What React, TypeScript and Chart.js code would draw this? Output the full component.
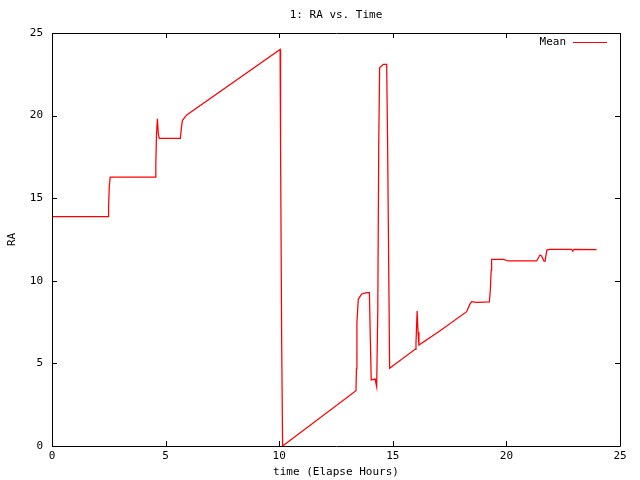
import React, { useEffect, useRef } from "react";
import { Chart, registerables } from "chart.js";

Chart.register(...registerables);

const TITLE = "1: RA vs. Time";
const X_LABEL = "time (Elapse Hours)";
const Y_LABEL = "RA";
const SERIES_LABEL = "Mean";

const times: number[] = [
  0, 2.48, 2.49, 2.52, 2.56, 4.55, 4.57, 4.6, 4.64, 4.68, 4.72, 5.65, 5.7, 5.74, 5.93,
  10.04, 10.06, 10.11, 10.15, 13.38, 13.4, 13.42, 13.48, 13.63, 13.85, 13.97, 14.01,
  14.05, 14.22, 14.25, 14.29, 14.34, 14.38, 14.42, 14.58, 14.73, 14.77, 14.83, 14.86,
  15.98, 16.02, 16.07, 16.11, 16.15, 17.08, 18.25, 18.4, 18.47, 18.7, 19.25, 19.29,
  19.33, 19.35, 19.87, 20.08, 21.33, 21.48, 21.55, 21.65, 21.7, 21.78, 21.9, 22.87,
  22.92, 22.97, 23.97,
];

const ra: number[] = [
  13.88, 13.88, 14.45, 15.66, 16.28, 16.28, 17.1, 18.9, 19.8, 18.9, 18.62, 18.62, 19.33, 19.7, 20.04,
  24.0, 18.06, 6.07, 0.0, 3.35, 4.68, 7.45, 8.88, 9.2, 9.28, 9.28, 6.52,
  4.0, 4.05, 3.85, 3.59, 8.33, 18.06, 22.9, 23.1, 23.1, 18.5, 9.3, 4.7,
  5.85, 6.2, 8.17, 6.9, 6.11, 6.98, 8.13, 8.6, 8.74, 8.7, 8.72, 9.38,
  10.65, 11.3, 11.3, 11.2, 11.2, 11.56, 11.5, 11.2, 11.18, 11.86, 11.9, 11.9,
  11.8, 11.9, 11.88,
];

const X_MIN = 0;
const X_MAX = 25;
const Y_MIN = 0;
const Y_MAX = 25;
const TICK_STEP = 5;

const FONT = "'DejaVu Sans Mono', 'Liberation Mono', monospace";

const framePlugin = {
  id: "gnuplotFrame",
  afterDatasetsDraw(chart: any) {
    const { ctx, chartArea, scales } = chart;
    const { left, right, top, bottom } = chartArea;
    ctx.save();
    ctx.strokeStyle = "#000";
    ctx.lineWidth = 1;
    ctx.beginPath();
    ctx.rect(Math.round(left) + 0.5, Math.round(top) + 0.5, Math.round(right - left), Math.round(bottom - top));
    ctx.stroke();
    const len = 5;
    ctx.beginPath();
    for (const t of scales.x.ticks) {
      const px = Math.round(scales.x.getPixelForValue(t.value)) + 0.5;
      ctx.moveTo(px, bottom);
      ctx.lineTo(px, bottom - len);
      ctx.moveTo(px, top);
      ctx.lineTo(px, top + len);
    }
    for (const t of scales.y.ticks) {
      const py = Math.round(scales.y.getPixelForValue(t.value)) + 0.5;
      ctx.moveTo(left, py);
      ctx.lineTo(left + len, py);
      ctx.moveTo(right, py);
      ctx.lineTo(right - len, py);
    }
    ctx.stroke();

    // legend (text then line sample), top right inside plot
    const ds = chart.data.datasets[0];
    const ly = top + 9.5;
    ctx.font = `11px ${FONT}`;
    ctx.fillStyle = "#000";
    ctx.textAlign = "right";
    ctx.textBaseline = "middle";
    ctx.fillText(ds.label, right - 54, ly);
    ctx.strokeStyle = ds.borderColor;
    ctx.beginPath();
    ctx.moveTo(right - 47, ly);
    ctx.lineTo(right - 13, ly);
    ctx.stroke();
    ctx.restore();
  },
};

export default function App() {
  const ref = useRef<HTMLCanvasElement | null>(null);

  useEffect(() => {
    if (!ref.current) return;
    const points = times.map((t, i) => ({ x: t, y: ra[i] }));
    const chart = new Chart(ref.current, {
      type: "line",
      data: {
        datasets: [
          {
            label: SERIES_LABEL,
            data: points,
            borderColor: "#ff0000",
            backgroundColor: "#ff0000",
            borderWidth: 1.25,
            pointRadius: 0,
            tension: 0,
            fill: false,
          },
        ],
      },
      options: {
        responsive: false,
        animation: false,
        layout: { padding: { left: 0, right: 20, top: 0, bottom: 0 } },
        plugins: {
          legend: { display: false },
          tooltip: { enabled: false },
          title: {
            display: true,
            text: TITLE,
            fullSize: false,
            color: "#000",
            font: { family: FONT, size: 11, weight: "normal" },
            padding: { top: 9, bottom: 10.8 },
          },
        },
        scales: {
          x: {
            type: "linear",
            min: X_MIN,
            max: X_MAX,
            grid: { display: false, drawTicks: false },
            border: { display: false },
            ticks: {
              stepSize: TICK_STEP,
              color: "#000",
              padding: 4,
              maxRotation: 0,
              font: { family: FONT, size: 11 },
            },
            title: {
              display: true,
              text: X_LABEL,
              color: "#000",
              font: { family: FONT, size: 11 },
              padding: { top: 0, bottom: 1 },
            },
            afterFit: (s: any) => {
              s.height = 34;
            },
          },
          y: {
            type: "linear",
            min: Y_MIN,
            max: Y_MAX,
            grid: { display: false, drawTicks: false },
            border: { display: false },
            ticks: {
              stepSize: TICK_STEP,
              color: "#000",
              padding: 9,
              font: { family: FONT, size: 11 },
            },
            title: {
              display: true,
              text: Y_LABEL,
              color: "#000",
              font: { family: FONT, size: 11 },
              padding: { top: 6, bottom: 0 },
            },
            afterFit: (s: any) => {
              s.width = 52;
            },
          },
        },
      },
      plugins: [framePlugin],
    });
    return () => chart.destroy();
  }, []);

  return (
    <div style={{ position: "fixed", left: 0, top: 0, width: 640, height: 480, background: "#fff" }}>
      <canvas ref={ref} width={640} height={480} style={{ width: 640, height: 480 }} />
    </div>
  );
}
